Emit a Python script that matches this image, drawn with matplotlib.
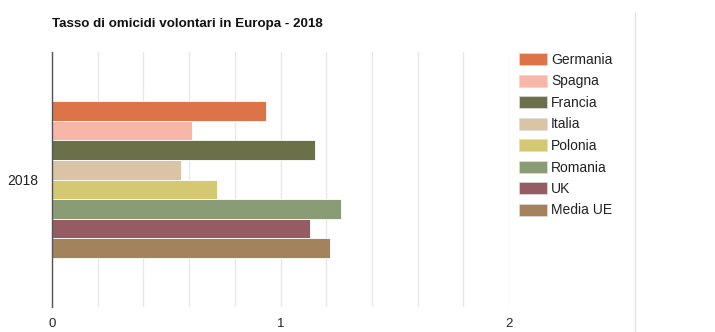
import matplotlib
matplotlib.use("Agg")
import matplotlib.pyplot as plt
from matplotlib.patches import Patch
from matplotlib.lines import Line2D

plt.rcParams['font.family'] = ['Liberation Sans', 'DejaVu Sans']

# data
category = "2018"
countries = ["Germania", "Spagna", "Francia", "Italia", "Polonia", "Romania", "UK", "Media UE"]
rates = [0.937, 0.613, 1.150, 0.563, 0.722, 1.266, 1.127, 1.218]
colors = ["#dc7349", "#f7b6a8", "#6b7049", "#dbc3a6", "#d4c872", "#8a9c75", "#955c63", "#a4825b"]

fig = plt.figure(figsize=(7.15, 3.32), dpi=100)
ax = fig.add_axes([52 / 715, 25 / 332, (509 - 52) / 715, (307 - 52) / 332])

n = len(countries)
bar_h = 0.615 / n
for i, (name, val, col) in enumerate(zip(countries, rates, colors)):
    ypos = (i - (n - 1) / 2) * bar_h
    ax.barh(ypos, val, height=bar_h, color=col, edgecolor="white", linewidth=0.6, zorder=3)

ax.set_ylim(0.5, -0.5)
ax.set_xlim(0, 2)
ax.set_xticks([0, 1, 2])
ax.set_xticklabels(["0", "1", "2"], fontsize=9.5, color="#222222")
ax.set_xticks([i * 0.2 for i in range(11)], minor=True)
ax.set_yticks([0])
ax.set_yticklabels([category], fontsize=10, color="#222222")
ax.tick_params(axis="both", which="both", length=0)
ax.tick_params(axis="x", pad=8)
ax.tick_params(axis="y", pad=10)
ax.grid(True, axis="x", which="both", color="#e8e8e8", linewidth=1, zorder=0)
for s in ["top", "right", "bottom"]:
    ax.spines[s].set_visible(False)
ax.spines["left"].set_color("#555555")
ax.spines["left"].set_linewidth(1)
ax.spines["left"].set_zorder(4)

fig.text(52 / 715, 1 - 24 / 332, "Tasso di omicidi volontari in Europa - 2018",
         fontsize=9.6, fontweight="bold", va="center", ha="left", color="#111111")

# right border line
fig.add_artist(Line2D([635 / 715, 635 / 715], [0, 1 - 13 / 332], transform=fig.transFigure,
                      color="#e2e2e2", linewidth=1))

handles = [Patch(facecolor=c, edgecolor="#dddddd", linewidth=0.5) for c in colors]
fig.legend(handles, countries, loc="upper left", bbox_to_anchor=(519 / 715, 1 - 53 / 332),
           frameon=False, fontsize=10, handlelength=2.0, handleheight=0.94,
           handletextpad=0.3, labelspacing=0.54, borderpad=0, borderaxespad=0,
           labelcolor="#222222")

fig.savefig("out.png", dpi=100)
